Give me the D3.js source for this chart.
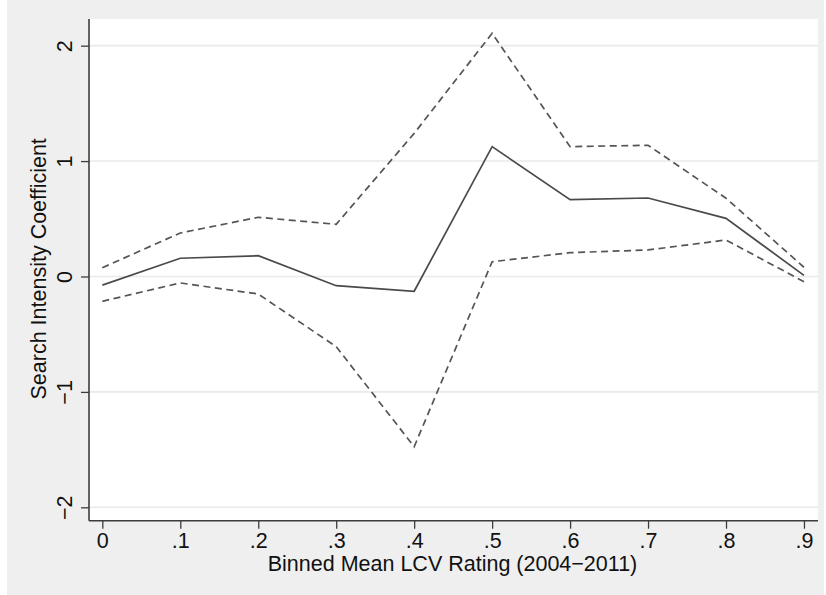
<!DOCTYPE html>
<html>
<head>
<meta charset="utf-8">
<script src="https://cdn.jsdelivr.net/npm/d3@7/dist/d3.min.js"></script>
<style>
  html, body { margin: 0; padding: 0; background: #ffffff; }
  svg { display: block; font-family: "Liberation Sans", Arial, sans-serif; }
</style>
</head>
<body>
<svg id="chart" width="826" height="595"></svg>
<script>
// Binned mean LCV rating (x) and search-intensity coefficients with CI bounds
const bins = [0, 0.1, 0.2, 0.3, 0.4, 0.5, 0.6, 0.7, 0.8, 0.9];
const coefficient = [-0.075, 0.158, 0.18, -0.08, -0.128, 1.125, 0.666, 0.68, 0.504, 0.01];
const upperBound = [0.076, 0.377, 0.513, 0.452, 1.24, 2.107, 1.125, 1.137, 0.678, 0.08];
const lowerBound = [-0.215, -0.056, -0.152, -0.608, -1.475, 0.128, 0.206, 0.23, 0.316, -0.045];
const xTicks = [0, 0.1, 0.2, 0.3, 0.4, 0.5, 0.6, 0.7, 0.8, 0.9];
const xTickLabels = ["0", ".1", ".2", ".3", ".4", ".5", ".6", ".7", ".8", ".9"];
const yTicks = [-2, -1, 0, 1, 2];
const yTickLabels = ["\u22122", "\u22121", "0", "1", "2"];
const xTitle = "Binned Mean LCV Rating (2004\u22122011)";
const yTitle = "Search Intensity Coefficient";

const svg = d3.select("#chart");
const W = 826, H = 595;
const plot = { left: 89, right: 818, top: 19, bottom: 520.7 };
const FS = 21.5;

// outer graph region
svg.append("rect").attr("x", 7).attr("y", 0).attr("width", W - 9).attr("height", H)
  .attr("fill", "#efefef");
// plot region
svg.append("rect").attr("x", plot.left).attr("y", plot.top)
  .attr("width", plot.right - plot.left).attr("height", plot.bottom - plot.top)
  .attr("fill", "#ffffff");

const x = d3.scaleLinear().domain([-0.0171, 0.918]).range([plot.left, plot.right]);
const y = d3.scaleLinear().domain([-2.116, 2.231]).range([plot.bottom, plot.top]);

// horizontal grid lines
svg.append("g").selectAll("line").data(yTicks).join("line")
  .attr("x1", plot.left).attr("x2", plot.right)
  .attr("y1", d => y(d)).attr("y2", d => y(d))
  .attr("stroke", "#eaeaea").attr("stroke-width", 1.6);

// y axis
const yAxis = svg.append("g").attr("transform", `translate(${plot.left},0)`)
  .call(d3.axisLeft(y).tickValues(yTicks).tickSize(8).tickFormat((d, i) => yTickLabels[i]));
yAxis.select(".domain").attr("d", `M0,${plot.top}V${plot.bottom}`)
  .attr("stroke", "#3c3c3c").attr("stroke-width", 1.6);
yAxis.selectAll(".tick line").attr("stroke", "#3c3c3c").attr("stroke-width", 1.3);
yAxis.selectAll(".tick text")
  .attr("x", null).attr("dy", null)
  .attr("transform", "translate(-17,0) rotate(-90)")
  .attr("text-anchor", "middle")
  .attr("font-size", FS).attr("fill", "#111")
  .style("font-family", "Liberation Sans, Arial, sans-serif");

// x axis
const xAxis = svg.append("g").attr("transform", `translate(0,${plot.bottom})`)
  .call(d3.axisBottom(x).tickValues(xTicks).tickSize(8).tickFormat((d, i) => xTickLabels[i]));
xAxis.select(".domain").attr("d", `M${plot.left},0H${plot.right}`)
  .attr("stroke", "#3c3c3c").attr("stroke-width", 1.6);
xAxis.selectAll(".tick line").attr("stroke", "#3c3c3c").attr("stroke-width", 1.3);
xAxis.selectAll(".tick text")
  .attr("y", 27.5).attr("dy", null)
  .attr("font-size", FS).attr("fill", "#111")
  .style("font-family", "Liberation Sans, Arial, sans-serif");

// axis titles
svg.append("text").attr("x", (plot.left + plot.right) / 2 - 1).attr("y", 571)
  .attr("text-anchor", "middle").attr("font-size", FS).attr("fill", "#111").text(xTitle);
svg.append("text").attr("transform", `translate(46,${(plot.top + plot.bottom) / 2 - 1}) rotate(-90)`)
  .attr("text-anchor", "middle").attr("font-size", FS).attr("fill", "#111").text(yTitle);

// series lines
const line = vals => d3.line().x((d, i) => x(bins[i])).y(d => y(d))(vals);
svg.append("path").attr("d", line(upperBound)).attr("fill", "none")
  .attr("stroke", "#555").attr("stroke-width", 1.7).attr("stroke-dasharray", "7,4.5");
svg.append("path").attr("d", line(lowerBound)).attr("fill", "none")
  .attr("stroke", "#555").attr("stroke-width", 1.7).attr("stroke-dasharray", "7,4.5");
svg.append("path").attr("d", line(coefficient)).attr("fill", "none")
  .attr("stroke", "#4a4a4a").attr("stroke-width", 1.7);
</script>
</body>
</html>
